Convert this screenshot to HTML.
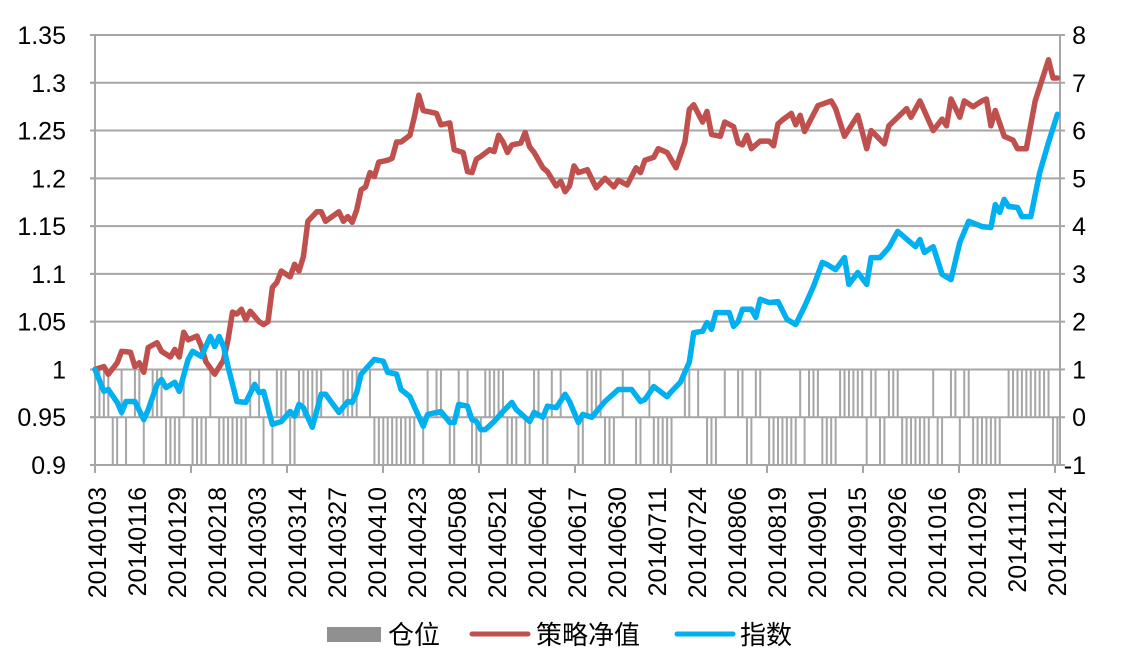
<!DOCTYPE html>
<html><head><meta charset="utf-8"><style>
html,body{margin:0;padding:0;background:#fff;}
svg{display:block;font-family:"Liberation Sans","Noto Sans CJK SC",sans-serif;}
</style></head><body>
<svg id="chart" width="1122" height="660" viewBox="0 0 1122 660" xmlns="http://www.w3.org/2000/svg">
<g id="grid"></g>
<g id="bars"></g>
<g id="axes"></g>
<g id="lines"></g>
<g id="legend">
  <rect x="327" y="627" width="54" height="15" fill="#909090"/>
  <text x="388" y="644" font-size="26" fill="#000">仓位</text>
  <line x1="472" y1="634" x2="528" y2="634" stroke="#c0504d" stroke-width="5" stroke-linecap="round"/>
  <text x="536" y="644" font-size="26" fill="#000">策略净值</text>
  <line x1="677" y1="634" x2="733" y2="634" stroke="#00b0f0" stroke-width="5" stroke-linecap="round"/>
  <text x="740" y="644" font-size="26" fill="#000">指数</text>
</g>
</svg>
<script>
const dateLabels=["20140103","20140116","20140129","20140218","20140303","20140314","20140327","20140410","20140423","20140508","20140521","20140604","20140617","20140630","20140711","20140724","20140806","20140819","20140901","20140915","20140926","20141016","20141029","20141111","20141124"];
const leftTicks=[0.9,0.95,1,1.05,1.1,1.15,1.2,1.25,1.3,1.35];
const leftTickLabels=["0.9","0.95","1","1.05","1.1","1.15","1.2","1.25","1.3","1.35"];
const rightTicks=[-1,0,1,2,3,4,5,6,7,8];
const numDays=218;
const strategyDays=[0,2,3,5,6,8,9,10,11,12,14,15,17,18,19,20,21,23,24,25,27,29,30,31,32,33,34,35,37,38,39,40,41,42,44,45,46,47,48,50,51,52,55,56,57,58,59,60,61,62,63,64,66,67,68,69,71,72,73,74,76,77,78,80,81,83,84,85,86,87,89,90,91,92,93,94,96,97,98,99,101,102,104,105,106,107,108,109,111,113,115,117,118,120,122,123,124,126,127,129,131,133,134,135,137,138,139,141,142,144,145,146,147,148,150,152,153,154,155,157,158,159,160,163,166,167,169,172,174,175,178,179,183,184,186,189,191,192,193,195,196,198,200,201,202,203,205,207,208,210,212,215,216,217];
const strategyValues=[1.0,1.003,0.995,1.007,1.019,1.018,1.003,1.007,0.997,1.023,1.028,1.019,1.013,1.021,1.013,1.039,1.031,1.035,1.024,1.008,0.995,1.010,1.031,1.060,1.058,1.063,1.052,1.061,1.050,1.047,1.050,1.086,1.091,1.103,1.097,1.110,1.103,1.118,1.155,1.165,1.165,1.155,1.165,1.155,1.160,1.154,1.167,1.188,1.191,1.206,1.202,1.217,1.219,1.221,1.238,1.238,1.245,1.264,1.287,1.271,1.269,1.268,1.256,1.258,1.230,1.227,1.207,1.206,1.220,1.223,1.230,1.228,1.245,1.238,1.227,1.235,1.237,1.248,1.233,1.227,1.211,1.207,1.192,1.197,1.186,1.192,1.213,1.206,1.209,1.190,1.200,1.191,1.198,1.193,1.211,1.206,1.219,1.222,1.231,1.227,1.211,1.238,1.272,1.277,1.259,1.270,1.246,1.244,1.259,1.254,1.237,1.235,1.245,1.231,1.239,1.239,1.234,1.257,1.261,1.268,1.256,1.266,1.249,1.276,1.281,1.273,1.244,1.266,1.231,1.250,1.236,1.255,1.273,1.264,1.281,1.250,1.262,1.255,1.283,1.264,1.281,1.275,1.281,1.283,1.255,1.271,1.244,1.240,1.231,1.231,1.281,1.324,1.305,1.305];
const indexDays=[0,2,3,5,6,7,9,11,12,14,15,16,18,19,21,22,24,26,27,28,29,30,32,34,36,37,38,40,42,44,45,46,47,49,51,52,55,57,58,59,60,63,65,66,68,69,71,74,75,78,80,81,82,84,85,86,87,88,90,92,94,95,98,99,101,102,104,106,107,109,110,112,115,118,121,123,124,126,129,130,132,134,135,137,138,139,140,143,144,145,146,148,149,150,152,154,156,158,160,162,164,165,167,169,170,172,174,175,177,179,181,185,186,187,189,191,193,195,197,200,202,203,204,205,206,208,209,211,213,215,217];
const indexValues=[1.0,0.54,0.58,0.31,0.10,0.33,0.33,-0.05,0.16,0.69,0.79,0.62,0.73,0.54,1.21,1.38,1.27,1.69,1.48,1.69,1.48,1.06,0.33,0.31,0.69,0.52,0.54,-0.15,-0.09,0.12,0.02,0.27,0.20,-0.21,0.48,0.48,0.10,0.33,0.31,0.52,0.90,1.21,1.17,0.94,0.90,0.58,0.43,-0.19,0.06,0.12,-0.11,-0.11,0.27,0.23,-0.05,-0.09,-0.26,-0.26,-0.09,0.12,0.31,0.16,-0.09,0.10,0.00,0.23,0.20,0.48,0.33,-0.11,0.06,0.00,0.33,0.58,0.58,0.33,0.37,0.64,0.43,0.54,0.73,1.15,1.77,1.80,1.98,1.84,2.19,2.19,1.90,2.00,2.26,2.26,2.09,2.47,2.40,2.42,2.05,1.94,2.32,2.74,3.24,3.20,3.09,3.34,2.78,3.03,2.78,3.34,3.34,3.55,3.89,3.57,3.72,3.45,3.57,2.99,2.88,3.66,4.10,3.99,3.97,4.45,4.29,4.56,4.41,4.39,4.20,4.20,5.12,5.75,6.34];
// position segments: [startDay, endDay, value]
const positionSegments=[[1,3,1],[4,5,-1],[6,6,1],[7,7,-1],[9,10,1],[11,11,-1],[13,15,1],[16,19,-1],[20,20,1],[22,25,-1],[26,26,1],[28,34,-1],[35,35,1],[37,37,1],[38,38,-1],[40,40,-1],[41,43,1],[44,45,-1],[46,51,1],[56,59,1],[62,62,1],[63,72,-1],[74,74,-1],[75,75,1],[77,78,1],[80,81,-1],[82,82,1],[84,84,1],[85,87,-1],[88,92,1],[93,95,-1],[97,98,-1],[99,100,1],[101,102,-1],[103,103,1],[105,105,1],[109,110,-1],[111,114,1],[115,117,-1],[119,119,1],[122,123,-1],[125,125,1],[126,130,-1],[133,134,1],[136,136,1],[138,140,-1],[142,142,1],[145,146,1],[147,148,-1],[149,150,1],[152,158,-1],[159,159,1],[160,160,-1],[161,163,1],[164,167,-1],[168,173,1],[174,174,-1],[175,176,1],[177,178,-1],[179,181,1],[182,188,-1],[189,189,1],[190,191,-1],[193,194,1],[195,195,-1],[196,197,1],[198,204,-1],[206,215,1],[216,217,-1]];

const NS="http://www.w3.org/2000/svg";
const X0=95,X1=1060,Y0=465,Y1=35,DX=4.435;
function xDay(d){return X0+d*DX;}
function yL(v){return Y0-(v-0.9)/(1.35-0.9)*(Y0-Y1);}
function yR(v){return Y0-(v+1)/9*(Y0-Y1);}
function mk(tag,attrs,parent){const e=document.createElementNS(NS,tag);for(const k in attrs)e.setAttribute(k,attrs[k]);parent.appendChild(e);return e;}

const grid=document.getElementById('grid');
leftTicks.forEach((t,i)=>{
  if(t===0.9) return;
  const l=mk('line',{x1:X0-5,x2:X1,y1:yL(t),y2:yL(t),stroke:'#a6a6a6','stroke-width':2},grid);
  
  
});

const bars=document.getElementById('bars');
const pos=new Array(numDays).fill(0);
positionSegments.forEach(s=>{for(let d=s[0];d<=s[1];d++)pos[d]=s[2];});
pos.forEach((p,d)=>{
  if(!p) return;
  const y=Math.min(yR(0),yR(p)),h=Math.abs(yR(p)-yR(0));
  const r=mk('rect',{x:xDay(d)-1,y:y,width:2,height:h,fill:'#a6a6a6'},bars);
  
  
});

const axes=document.getElementById('axes');
const ax=mk('line',{x1:X0,x2:X1+2,y1:Y0,y2:Y0,stroke:'#a6a6a6','stroke-width':2},axes);


const ay=mk('line',{x1:X0,x2:X0,y1:Y1,y2:Y0,stroke:'#a6a6a6','stroke-width':2},axes);


const ar=mk('line',{x1:X1,x2:X1,y1:Y1,y2:Y0,stroke:'#a6a6a6','stroke-width':2},axes);


for(let k=0;k<=10;k++){
  const t=mk('line',{x1:X0+96*k,x2:X0+96*k,y1:Y0,y2:Y0+8,stroke:'#a6a6a6','stroke-width':2},axes);
  
  
}
leftTicks.forEach((t,i)=>{
  const tk=mk('line',{x1:X0-5,x2:X0,y1:yL(t),y2:yL(t),stroke:'#a6a6a6','stroke-width':2},axes);
  
  
  const tx=mk('text',{x:66,y:yL(t)+9,'text-anchor':'end','font-size':25,fill:'#000'},axes);
  tx.textContent=leftTickLabels[i];
  
  
});
rightTicks.forEach(t=>{
  const tk=mk('line',{x1:X1,x2:X1+5,y1:yR(t),y2:yR(t),stroke:'#a6a6a6','stroke-width':2},axes);
  
  
  const tx=mk('text',{x:1086,y:yR(t)+9,'text-anchor':'end','font-size':25,fill:'#000'},axes);
  tx.textContent=String(t);
  
  
});
dateLabels.forEach((s,k)=>{
  const cx=X0+40*k+3,ty=487;
  const tx=mk('text',{x:cx,y:ty,transform:`rotate(-90 ${cx} ${ty})`,'text-anchor':'end','dominant-baseline':'central','font-size':25,fill:'#000'},axes);
  tx.textContent=s;
  
  
});

const lines=document.getElementById('lines');
const pr=mk('polyline',{points:strategyDays.map((d,i)=>xDay(d).toFixed(1)+','+yL(strategyValues[i]).toFixed(1)).join(' '),fill:'none',stroke:'#c0504d','stroke-width':5.5,'stroke-linejoin':'round','stroke-linecap':'round'},lines);


const pb=mk('polyline',{points:indexDays.map((d,i)=>xDay(d).toFixed(1)+','+yR(indexValues[i]).toFixed(1)).join(' '),fill:'none',stroke:'#00b0f0','stroke-width':5.5,'stroke-linejoin':'round','stroke-linecap':'round'},lines);


</script>
</body></html>
